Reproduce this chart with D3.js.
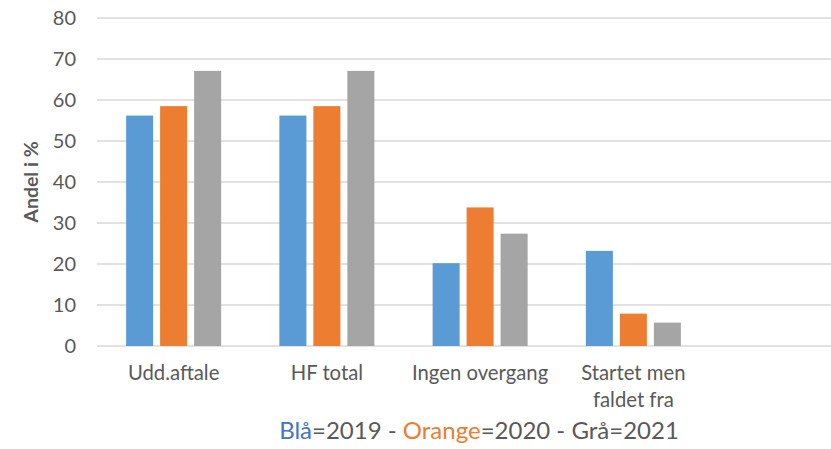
<!DOCTYPE html>
<html>
<head>
<meta charset="utf-8">
<script src="https://cdn.jsdelivr.net/npm/d3@7"></script>
<style>
  html, body { margin: 0; padding: 0; background: #fff; }
  svg { display: block; }
  text { font-family: Lato, "Open Sans", sans-serif; }
</style>
</head>
<body>
<svg id="chart" width="831" height="449"></svg>
<script>
const categories = ["Udd.aftale", "HF total", "Ingen overgang", "Startet men faldet fra"];
const series = ["2019", "2020", "2021"];
const values2019 = [56.2, 56.2, 20.2, 23.2];
const values2020 = [58.5, 58.5, 33.8, 7.9];
const values2021 = [67.1, 67.1, 27.4, 5.7];
const yTicks = [0, 10, 20, 30, 40, 50, 60, 70, 80];
const colors = ["#5B9BD5", "#ED7D31", "#A5A5A5"];
const yTitle = "Andel i %";
const legendParts = [
  { text: "Blå", color: "#4472C4" },
  { text: "=2019 - ", color: "#595959" },
  { text: "Orange", color: "#ED7D31" },
  { text: "=2020 - Grå=2021", color: "#595959" }
];

const allValues = [values2019, values2020, values2021];
const svg = d3.select("#chart");

const plotLeft = 97, plotRight = 831, plotTop = 18, plotBottom = 346;

const y = d3.scaleLinear().domain([0, 80]).range([plotBottom, plotTop]);
const x = d3.scaleBand().domain(categories).range([plotLeft, 710])
  .paddingInner(0.38).paddingOuter(0.19);
const xi = d3.scaleBand().domain(series).range([0, x.bandwidth()]).paddingInner(0.205);

// gridlines
svg.append("g").selectAll("line").data(yTicks).join("line")
  .attr("x1", plotLeft).attr("x2", plotRight)
  .attr("y1", d => y(d)).attr("y2", d => y(d))
  .attr("stroke", "#D9D9D9").attr("stroke-width", 1.3);

// y axis labels
const yAxis = d3.axisLeft(y).tickValues(yTicks).tickSize(0).tickPadding(0);
const gy = svg.append("g").attr("transform", `translate(${plotLeft - 21},0)`).call(yAxis);
gy.select(".domain").remove();
gy.selectAll("text").attr("fill", "#595959").style("font-size", "20px")
  .style("font-family", "Lato, 'Open Sans', sans-serif");

// bars
const groups = svg.append("g").selectAll("g").data(categories).join("g")
  .attr("transform", d => `translate(${x(d)},0)`);
groups.selectAll("rect").data((d, i) => series.map((s, j) => ({ s, v: allValues[j][i], j })))
  .join("rect")
  .attr("x", d => xi(d.s))
  .attr("width", xi.bandwidth())
  .attr("y", d => y(d.v))
  .attr("height", d => y(0) - y(d.v))
  .attr("fill", d => colors[d.j]);

// x axis labels
const xAxis = d3.axisBottom(x).tickSize(0).tickPadding(0);
const gx = svg.append("g").attr("transform", `translate(0,${plotBottom})`).call(xAxis);
gx.select(".domain").remove();
gx.selectAll(".tick text").each(function(d) {
  const t = d3.select(this);
  t.text(null).attr("y", 0).attr("dy", null)
    .attr("fill", "#595959").style("font-size", "20.3px")
    .style("font-family", "Lato, 'Open Sans', sans-serif");
  const lines = d === "Startet men faldet fra" ? ["Startet men", "faldet fra"] : [d];
  lines.forEach((ln, k) => {
    t.append("tspan").attr("x", 0).attr("y", 34 + k * 27).text(ln);
  });
});

// y title
svg.append("text")
  .attr("transform", `translate(38,182) rotate(-90)`)
  .attr("text-anchor", "middle")
  .attr("fill", "#595959")
  .style("font-size", "19.5px").style("font-weight", "bold")
  .text(yTitle);

// legend line
const leg = svg.append("text").attr("x", 479).attr("y", 439)
  .attr("text-anchor", "middle").style("font-size", "24px");
leg.selectAll("tspan").data(legendParts).join("tspan")
  .attr("fill", d => d.color).text(d => d.text);
</script>
</body>
</html>
